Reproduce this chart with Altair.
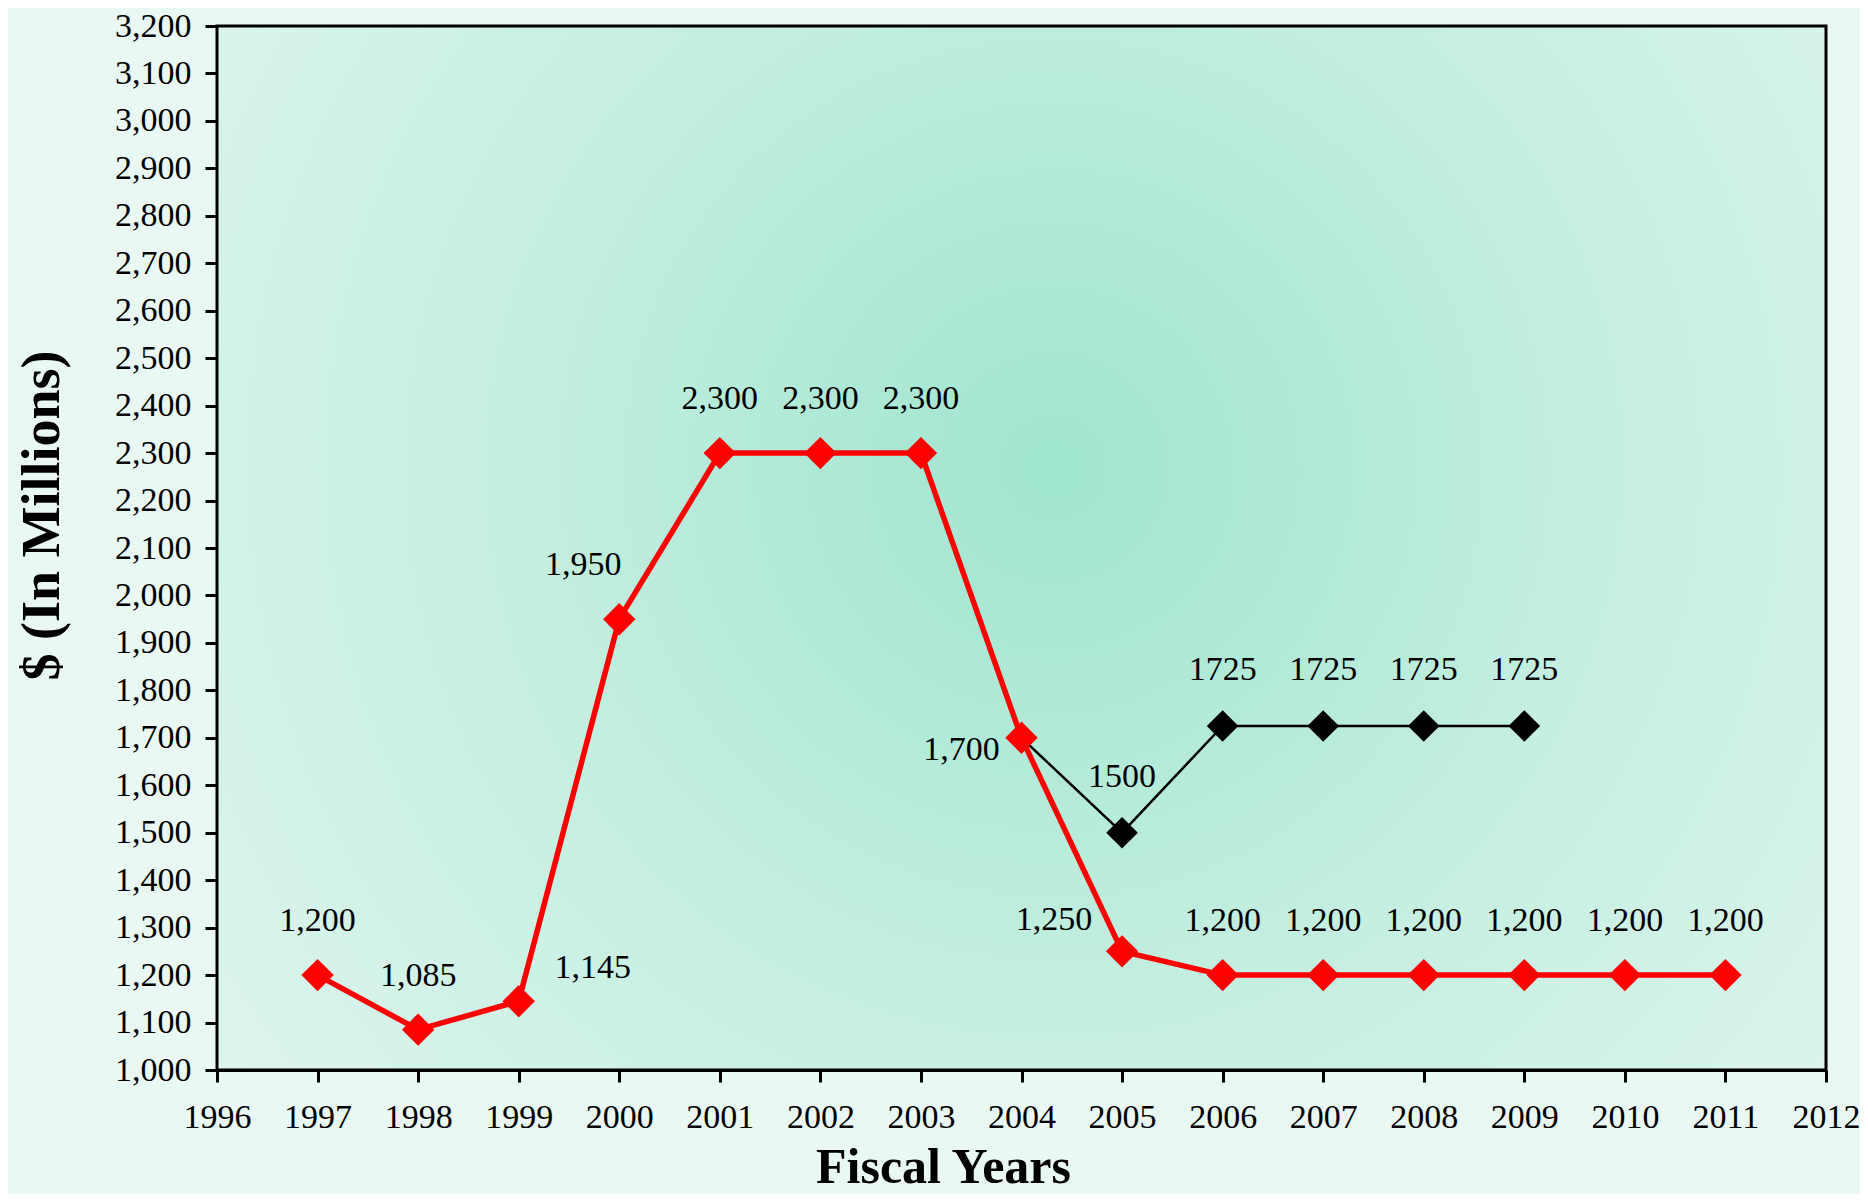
import altair as alt
import pandas as pd

# ---- data ----
years_red = [1997, 1998, 1999, 2000, 2001, 2002, 2003, 2004, 2005, 2006, 2007, 2008, 2009, 2010, 2011]
values_red = [1200, 1085, 1145, 1950, 2300, 2300, 2300, 1700, 1250, 1200, 1200, 1200, 1200, 1200, 1200]
labels_red = ["1,200", "1,085", "1,145", "1,950", "2,300", "2,300", "2,300", "1,700", "1,250",
              "1,200", "1,200", "1,200", "1,200", "1,200", "1,200"]

years_black = [2004, 2005, 2006, 2007, 2008, 2009]
values_black = [1700, 1500, 1725, 1725, 1725, 1725]
labels_black = ["", "1500", "1725", "1725", "1725", "1725"]

x_ticks = list(range(1996, 2013))
y_ticks = list(range(1000, 3201, 100))

red = pd.DataFrame({"year": years_red, "value": values_red, "label": labels_red})
black = pd.DataFrame({"year": years_black, "value": values_black, "label": labels_black})

FONT = "Liberation Serif"

xs = alt.Scale(domain=[1996, 2012], nice=False, zero=False)
ys = alt.Scale(domain=[1000, 3200], nice=False, zero=False)

x_enc = alt.X("year:Q", scale=xs,
              axis=alt.Axis(values=x_ticks, format="d", title="Fiscal Years",
                            titleX=726, titleY=112, titleAlign="center",
                            titleBaseline="alphabetic", titleFontSize=50,
                            labelPadding=18, labelFlush=False, labelOverlap=False))
y_enc = alt.Y("value:Q", scale=ys,
              axis=alt.Axis(values=y_ticks, format=",.0f", title="$ (In Millions)",
                            titleAngle=-90, titleX=-159, titleY=489,
                            titleAlign="center", titleBaseline="alphabetic",
                            titleFontSize=54,
                            labelPadding=14, labelFlush=False, labelOverlap=False))

gradient = {
    "gradient": "radial",
    "x1": 0.52, "y1": 0.45, "r1": 0,
    "x2": 0.52, "y2": 0.45, "r2": 0.72,
    "stops": [
        {"offset": 0.0, "color": "#9fe5cf"},
        {"offset": 0.45, "color": "#c3eee0"},
        {"offset": 1.0, "color": "#e4f7f1"},
    ],
}

bg = alt.Chart(pd.DataFrame({"k": [0]})).mark_rect(
    stroke="black", strokeWidth=3
).encode(
    x=alt.value(0), x2=alt.value("width"),
    y=alt.value(0), y2=alt.value("height"),
    color=alt.value(gradient),
)

black_line = alt.Chart(black).mark_line(color="black", strokeWidth=2.5).encode(x=x_enc, y=y_enc)
red_line = alt.Chart(red).mark_line(color="#ff0000", strokeWidth=5.5).encode(x=x_enc, y=y_enc)

black_pts = alt.Chart(black).transform_filter(
    alt.FieldOneOfPredicate(field="year", oneOf=[2005, 2006, 2007, 2008, 2009])
).mark_point(shape="diamond", filled=True, size=1000, opacity=1, color="black").encode(x=x_enc, y=y_enc)
red_pts = alt.Chart(red).mark_point(shape="diamond", filled=True, size=1050, opacity=1,
                                    color="#ff0000").encode(x=x_enc, y=y_enc)


def labels(df, years, dx, dy):
    return alt.Chart(df).transform_filter(
        alt.FieldOneOfPredicate(field="year", oneOf=years)
    ).mark_text(font=FONT, fontSize=34, color="black", align="center",
                baseline="middle", dx=dx, dy=dy).encode(
        x=x_enc, y=y_enc, text="label:N")


above_red = [1997, 1998, 2001, 2002, 2003, 2006, 2007, 2008, 2009, 2010, 2011]
txt = [
    labels(red, above_red, 0, -54),
    labels(red, [1999], 74, -33),
    labels(red, [2000], -36, -54),
    labels(red, [2004], -60, 12),
    labels(red, [2005], -68, -31),
    labels(black, [2005, 2006, 2007, 2008, 2009], 0, -56),
]

chart = alt.layer(bg, black_line, red_line, black_pts, red_pts, *txt).properties(
    width=1609, height=1044,
    autosize=alt.AutoSizeParams(type="none"),
    padding={"left": 209, "top": 18, "right": 34, "bottom": 124},
    background="#eaf8f3",
).configure_view(stroke=None).configure_axis(
    grid=False, domainColor="black", domainWidth=3, tickColor="black", tickWidth=3,
    tickSize=12, labelFont=FONT, labelFontSize=34, labelColor="black",
    titleFont=FONT, titleFontWeight="bold", titleColor="black",
    zindex=1,
)

chart.save("out.html", embed_options={"renderer": "svg", "actions": False})
